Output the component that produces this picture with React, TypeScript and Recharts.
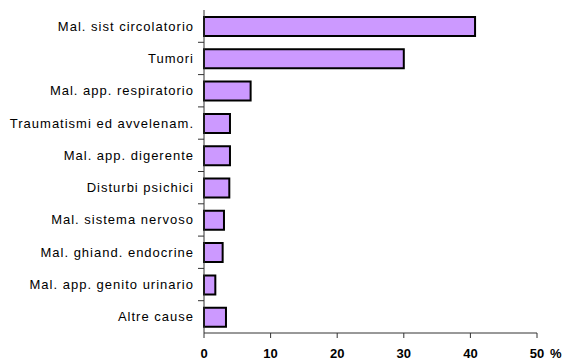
import React from 'react';
import { BarChart, Bar, XAxis, YAxis } from 'recharts';

// Cause-of-death groups, top to bottom, and their share in percent
const causes = [
  'Mal. sist circolatorio',
  'Tumori',
  'Mal. app. respiratorio',
  'Traumatismi ed avvelenam.',
  'Mal. app. digerente',
  'Disturbi psichici',
  'Mal. sistema nervoso',
  'Mal. ghiand. endocrine',
  'Mal. app. genito urinario',
  'Altre cause',
];
const shares = [40.7, 30.0, 7.0, 3.9, 3.9, 3.8, 3.0, 2.8, 1.7, 3.3];
const pctTicks = [0, 10, 20, 30, 40, 50];

const data = causes.map((name, i) => ({ name, value: shares[i] }));

const WIDTH = 563;
const HEIGHT = 360;
const MARGIN = { top: 10, right: 26, bottom: 0, left: 0 };
const X_AXIS_H = 27;
const Y_AXIS_W = 204;
const BAND = (HEIGHT - MARGIN.top - MARGIN.bottom - X_AXIS_H) / causes.length;
const AXIS_COLOR = '#333';
const FONT = '"Liberation Sans", Arial, sans-serif';

// Category label plus an Excel-style tick mark on the band boundary
function CauseTick(props: any) {
  const { x, y, payload } = props;
  const axisX = x + 11;
  const isLast = payload.value === causes[causes.length - 1];
  return (
    <g>
      <text
        x={x + 1}
        y={y}
        dy={4.5}
        textAnchor="end"
        fontSize={13}
        letterSpacing={1}
        fill="#000"
        fontFamily={FONT}
      >
        {payload.value}
      </text>
      {!isLast && (
        <line
          x1={axisX - 6}
          x2={axisX}
          y1={y + BAND / 2}
          y2={y + BAND / 2}
          stroke={AXIS_COLOR}
        />
      )}
    </g>
  );
}

function PctTick(props: any) {
  const { x, y, payload } = props;
  const isLast = payload.value === pctTicks[pctTicks.length - 1];
  return (
    <g fontFamily={FONT} fontSize={13} fontWeight="bold" fill="#000">
      <text x={x} y={y + 18} textAnchor="middle">
        {payload.value}
      </text>
      {isLast && (
        <text x={x + 13} y={y + 18} textAnchor="start">
          %
        </text>
      )}
    </g>
  );
}

export default function App() {
  return (
    <div style={{ position: 'absolute', left: 0, top: 0, width: WIDTH, height: HEIGHT, background: '#fff' }}>
      <BarChart width={WIDTH} height={HEIGHT} data={data} layout="vertical" margin={MARGIN}>
        <XAxis
          type="number"
          domain={[0, 50]}
          ticks={pctTicks}
          height={X_AXIS_H}
          tickSize={5}
          tickMargin={2}
          axisLine={{ stroke: AXIS_COLOR }}
          tickLine={{ stroke: AXIS_COLOR }}
          tick={<PctTick />}
          interval={0}
        />
        <YAxis
          type="category"
          dataKey="name"
          width={Y_AXIS_W}
          tickLine={false}
          tickSize={0}
          tickMargin={11}
          axisLine={{ stroke: AXIS_COLOR }}
          tick={<CauseTick />}
          interval={0}
        />
        <Bar
          dataKey="value"
          fill="#cc99ff"
          stroke="#000"
          strokeWidth={2}
          barSize={19}
          isAnimationActive={false}
        />
      </BarChart>
    </div>
  );
}
